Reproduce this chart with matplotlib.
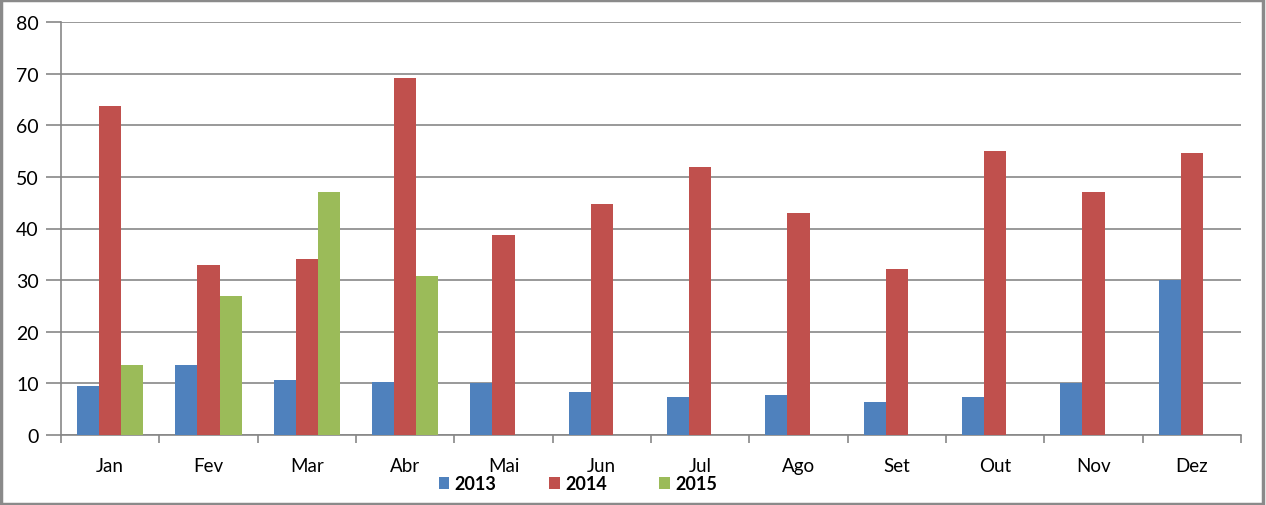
import matplotlib
matplotlib.use("Agg")
import matplotlib.pyplot as plt
import numpy as np
from matplotlib.patches import Rectangle

months = ["Jan", "Fev", "Mar", "Abr", "Mai", "Jun", "Jul", "Ago", "Set", "Out", "Nov", "Dez"]
series_names = ["2013", "2014", "2015"]
v2013 = [9.4, 13.6, 10.7, 10.2, 10.1, 8.3, 7.4, 7.8, 6.4, 7.4, 10.1, 30.0]
v2014 = [63.7, 32.9, 34.1, 69.1, 38.8, 44.8, 51.9, 43.0, 32.2, 55.0, 47.1, 54.7]
v2015 = [13.6, 26.9, 47.1, 30.8, None, None, None, None, None, None, None, None]
colors = ["#4F81BD", "#C0504D", "#9BBB59"]
yticks = [0, 10, 20, 30, 40, 50, 60, 70, 80]

plt.rcParams['font.family'] = ['Lato', 'DejaVu Sans']

W, H = 1266, 506
fig = plt.figure(figsize=(W / 100, H / 100), dpi=100)
ax = fig.add_axes([61 / W, 1 - 436 / H, (1241 - 61) / W, (436 - 23) / H])

x = np.arange(len(months))
bw = 0.224
grid_c = "#878787"
handles = []
for i, (vals, c) in enumerate(zip([v2013, v2014, v2015], colors)):
    xs = [xi + (i - 1) * bw for xi, v in zip(x, vals) if v is not None]
    ys = [v for v in vals if v is not None]
    h = ax.bar(xs, ys, width=bw, color=c, zorder=3, label=series_names[i])
    handles.append(h)

ax.set_xlim(-0.5, len(months) - 0.5)
ax.set_ylim(0, 80)
ax.set_yticks(yticks)
ax.set_yticklabels([str(t) for t in yticks], fontsize=14)
ax.yaxis.grid(True, color=grid_c, linewidth=1.2, zorder=0)
ax.tick_params(axis='y', length=11, width=1.2, color=grid_c, pad=5)

ax.set_xticks(x)
ax.set_xticklabels(months, fontsize=13.5)
ax.tick_params(axis='x', which='major', length=0, pad=16)
ax.set_xticks(np.arange(-0.5, len(months)), minor=True)
ax.tick_params(axis='x', which='minor', length=6, width=1.2, color=grid_c)

for s in ["top", "right"]:
    ax.spines[s].set_visible(False)
for s in ["left", "bottom"]:
    ax.spines[s].set_color(grid_c)
    ax.spines[s].set_linewidth(1.2)

leg = fig.legend(handles=handles, labels=series_names, loc='center',
                 bbox_to_anchor=(578 / W, 1 - 485 / H), ncol=3, frameon=False,
                 prop={'weight': 'bold', 'size': 13}, handlelength=0.6, handleheight=0.6,
                 handletextpad=0.3, columnspacing=2.9, borderpad=0)

fig.patches.append(Rectangle((0.001, 0.002), 0.997, 0.996, transform=fig.transFigure,
                             fill=False, edgecolor="#8a8a8a", linewidth=2.5))

fig.savefig("out.png", dpi=100)
